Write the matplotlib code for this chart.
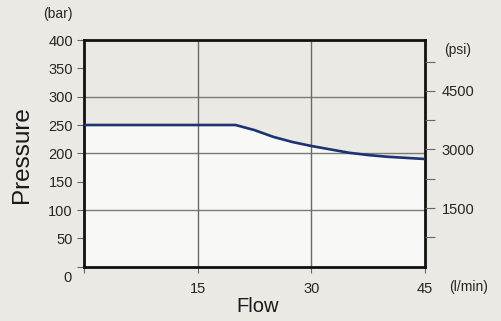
import matplotlib
matplotlib.use("Agg")
import matplotlib.pyplot as plt
import numpy as np

flow = [0, 20, 22.5, 25, 27.5, 30, 32.5, 35, 37.5, 40, 42.5, 45]
pressure = [250, 250, 241, 229, 220, 213, 207, 201, 197, 194, 192, 190]
bar_ticks = [50, 100, 150, 200, 250, 300, 350, 400]
flow_ticks = [15, 30, 45]
psi_major = [1500, 3000, 4500]
psi_minor = [750, 2250, 3750, 5250]
PSI_PER_BAR = 14.5038

plt.rcParams['font.family'] = ['Liberation Sans', 'DejaVu Sans']
bg = '#ebe9e4'
tc = '#262626'
fs = 10.5
fig = plt.figure(figsize=(5.01, 3.21), dpi=100, facecolor=bg)
ax = fig.add_axes([84/501, 1-266.7/321, (425-84)/501, (266.7-40)/321])
ax.set_facecolor('#ebe9e4')
ax.set_xlim(0, 45)
ax.set_ylim(0, 400)

ax.fill_between(flow, 0, pressure, color='#f8f8f7', zorder=1, linewidth=0)
for g in [100, 200, 300]:
    ax.axhline(g, color='#7a7a7a', lw=1.0, zorder=2)
for g in [15, 30]:
    ax.axvline(g, color='#6a6a6a', lw=1.0, zorder=2)
ax.plot(flow, pressure, color='#1d3270', lw=1.9, zorder=3)

for s in ax.spines.values():
    s.set_linewidth(2.0)
    s.set_color('#111111')

ax.set_yticks([0] + bar_ticks)
ax.set_yticklabels([''] + [str(v) for v in bar_ticks])
ax.set_xticks([0] + flow_ticks)
ax.set_xticklabels([''] + [str(v) for v in flow_ticks])
ax.tick_params(axis='y', direction='out', length=5, width=0.8, color='#666666',
               labelsize=fs, labelcolor=tc, pad=3)
ax.tick_params(axis='x', direction='out', length=4, width=0.8, color='#666666',
               labelsize=fs, labelcolor=tc, pad=7)

ax2 = ax.twinx()
ax2.set_ylim(0, 400 * PSI_PER_BAR)
ax2.set_yticks(psi_major)
ax2.set_yticklabels([str(v) for v in psi_major])
ax2.set_yticks(psi_minor, minor=True)
ax2.tick_params(axis='y', which='both', direction='out', length=7, width=0.8,
                color='#666666', labelsize=fs, labelcolor=tc, pad=5)
for s in ax2.spines.values():
    s.set_visible(False)

fig.text(68/501, 1-278/321, '0', ha='center', va='center', fontsize=fs, color=tc)
fig.text(58/501, 1-14/321, '(bar)', ha='center', va='center', fontsize=10, color=tc)
fig.text(458/501, 1-50/321, '(psi)', ha='center', va='center', fontsize=10, color=tc)
fig.text(469/501, 1-287/321, '(l/min)', ha='center', va='center', fontsize=10, color=tc)
fig.text(258/501, 1-307/321, 'Flow', ha='center', va='center', fontsize=14.5, color='#1a1a1a')
fig.text(22/501, 1-155/321, 'Pressure', ha='center', va='center', fontsize=17.5,
         rotation=90, color='#1a1a1a')

fig.savefig('out.png', dpi=100, facecolor=bg)
